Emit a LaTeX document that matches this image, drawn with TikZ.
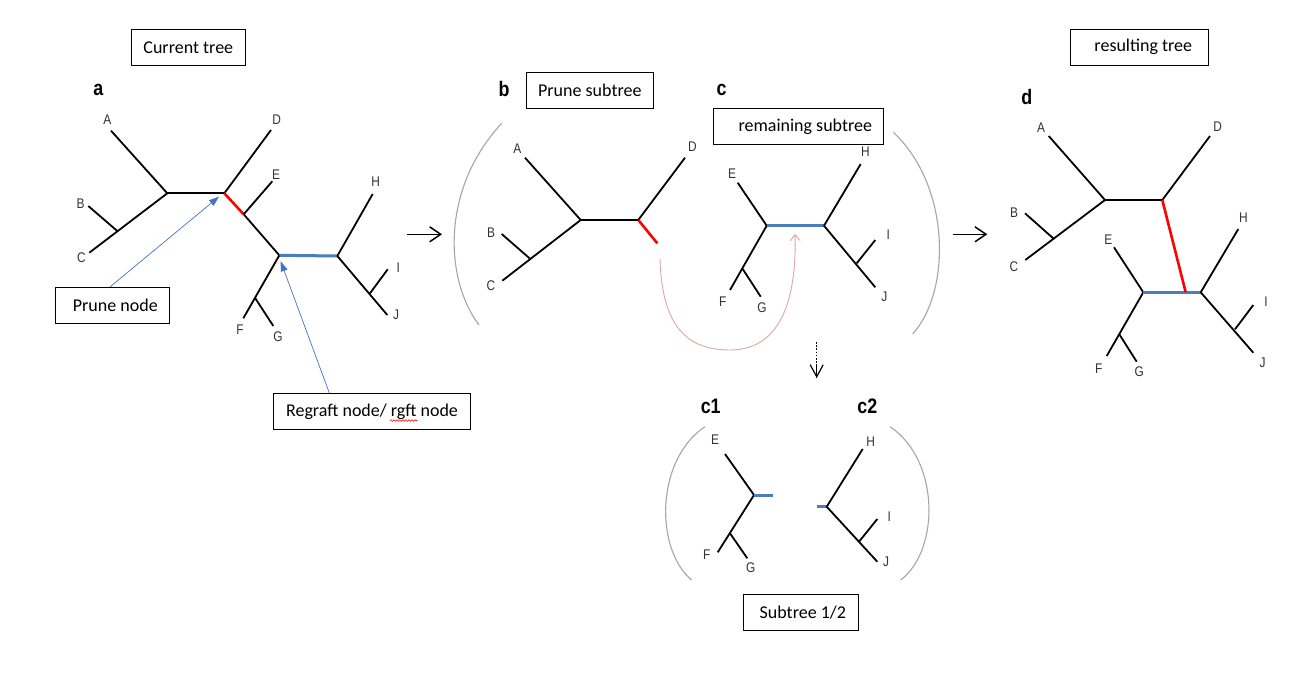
\documentclass[tikz,border=0pt]{standalone}
\usepackage{fontspec}
\setmainfont{Carlito}
\newfontfamily\leaffont[FakeStretch=0.85]{Liberation Sans}
\newfontfamily\panelfont[FakeStretch=0.85]{Liberation Sans}
\usetikzlibrary{arrows.meta,decorations.pathmorphing}
\definecolor{leafgray}{HTML}{333333}
\definecolor{treeblue}{HTML}{4A7EBB}
\definecolor{annblue}{HTML}{4472C4}
\definecolor{parengray}{HTML}{A6A6A6}
\definecolor{pinkarc}{HTML}{D9A8A8}
\tikzset{
  br/.style={line width=1.8pt, black},
  redbr/.style={line width=2.6pt, red},
  bluebr/.style={line width=3pt, treeblue},
  leaf/.style={font=\leaffont\fontsize{14}{16}\selectfont, text=leafgray, inner sep=0pt},
  panel/.style={font=\panelfont\bfseries\fontsize{21}{24}\selectfont, inner sep=0pt},
  box/.style={draw, line width=0.8pt, inner sep=0pt, minimum height=36pt, font=\fontsize{18}{21}\selectfont},
  paren/.style={draw=parengray, line width=1.1pt},
  stagearrow/.style={line width=1.5pt, -{Straight Barb[length=11pt,width=15pt,line width=1.5pt]}},
  annarrow/.style={annblue, line width=0.7pt, -{Triangle[length=10pt,width=7pt]}}
}
\begin{document}
\begin{tikzpicture}[x=1pt,y=-1pt]
\useasboundingbox (0,0) rectangle (1307,685);
\fill[white] (0,0) rectangle (1307,685);

% ---------- boxes ----------
\node[box, minimum width=114pt] (bcur) at (188.3,47.3) {Current tree};
\node[box, minimum width=114pt] (bprune) at (112.3,305.3) {\hspace*{6pt}Prune node};
\node[box, minimum width=197.4pt] (bregraft) at (372,411.3) {Regraft node/ rgft node};
\node[box, minimum width=127pt, minimum height=35.6pt] (bpsub) at (589.8,90.5) {Prune subtree};
\node[box, minimum width=170pt, minimum height=35.3pt] (brem) at (798.3,126.3) {\hspace*{14pt}remaining subtree};
\node[box, minimum width=138pt] (bres) at (1139.3,47) {\hspace*{8pt}resulting tree};
\node[box, minimum width=115pt, minimum height=35.7pt] (bsub) at (800.8,612.2) {\hspace*{4pt}Subtree 1/2};
\draw[red, line width=0.6pt, decorate, decoration={snake, segment length=3pt, amplitude=0.8pt}] (390,420.5) -- (417,420.5);

% ---------- panel letters ----------
\node[panel] (la) at (98.3,90) {a};
\node[panel] (lb) at (504,89.3) {b};
\node[panel] (lc) at (721.7,90) {c};
\node[panel] (ld) at (1026.7,96.7) {d};
\node[panel] (lc1) at (710.7,406.7) {c1};
\node[panel] (lc2) at (867.3,406.7) {c2};

% ---------- tree a ----------
\coordinate (an1) at (167.3,193.3);
\coordinate (an2) at (224.3,193.3);
\coordinate (aA) at (111,130.7);
\coordinate (aBC) at (117.3,231);
\coordinate (aB) at (88.3,206);
\coordinate (aC) at (89.3,252.7);
\coordinate (aD) at (271,130);
\coordinate (aEj) at (243.7,214.3);
\coordinate (aE) at (272.3,181.3);
\coordinate (an3) at (279.3,255.3);
\coordinate (an4) at (337.3,256);
\coordinate (aH) at (372.7,194);
\coordinate (aIJ) at (370,293.3);
\coordinate (aI) at (387.7,269.3);
\coordinate (aJ) at (387.3,315);
\coordinate (aF) at (243.3,318.3);
\coordinate (aFG) at (255.3,298.3);
\coordinate (aG) at (273.3,326);
\draw[br] (aA) -- (an1);
\draw[br] (an1) -- (an2);
\draw[br] (an2) -- (aD);
\draw[br] (an1) -- (aC);
\draw[br] (aBC) -- (aB);
\draw[redbr] (an2) -- (aEj);
\draw[br] (aEj) -- (aE);
\draw[br] (aEj) -- (an3);
\draw[bluebr] (an3) -- (an4);
\draw[br] (an4) -- (aH);
\draw[br] (an4) -- (aJ);
\draw[br] (aIJ) -- (aI);
\draw[br] (an3) -- (aF);
\draw[br] (aFG) -- (aG);
\node[leaf] (aLA) at (107.3,119.3) {A};
\node[leaf] (aLB) at (80.7,203.3) {B};
\node[leaf] (aLC) at (81.3,257.3) {C};
\node[leaf] (aLD) at (276.7,119.3) {D};
\node[leaf] (aLE) at (276,174.3) {E};
\node[leaf] (aLH) at (375.7,181.3) {H};
\node[leaf] (aLI) at (398.3,267.3) {I};
\node[leaf] (aLJ) at (396,315) {J};
\node[leaf] (aLF) at (240,329.3) {F};
\node[leaf] (aLG) at (278,336.7) {G};

% annotation arrows
\coordinate (prtip) at (219,196.7);
\coordinate (rgtip) at (280.7,261.3);
\draw[annarrow] ([xshift=-2.3pt]bprune.north) -- (prtip);
\draw[annarrow] ([xshift=-42.7pt]bregraft.north) -- (rgtip);

% stage arrows
\coordinate (s1a) at (407.3,234.3);
\coordinate (s1b) at (442,234.3);
\draw[stagearrow] (s1a) -- (s1b);
\coordinate (s2a) at (952.7,234.3);
\coordinate (s2b) at (987.3,234.3);
\draw[stagearrow] (s2a) -- (s2b);
\coordinate (s3a) at (816.7,342);
\coordinate (s3b) at (816.7,378);
\draw[line width=1.4pt, dash pattern=on 1.6pt off 1.6pt] (s3a) -- (s3b);
\draw[line width=1.2pt, -{Straight Barb[length=12pt,width=13pt,line width=1.2pt]}] ([yshift=13pt]s3b) -- (s3b);

% ---------- parentheses ----------
\draw[paren] (501.7,123.3) .. controls (440,190) and (445,280) .. (479,325);
\draw[paren] (893.3,132.3) .. controls (950,185) and (952,290) .. (912.7,334);
\draw[paren] (705,426.7) .. controls (655,460) and (655,550) .. (691.7,580);
\draw[paren] (890,426.7) .. controls (940,460) and (940,550) .. (900.7,580);

% ---------- tree b ----------
\coordinate (bn1) at (580.7,220);
\coordinate (bn2) at (638.3,220);
\coordinate (bA) at (525,157.7);
\coordinate (bBC) at (530,258.7);
\coordinate (bB) at (501.7,234);
\coordinate (bC) at (502.3,280.7);
\coordinate (bD) at (685,157.7);
\coordinate (bR) at (657.3,243.3);
\draw[br] (bA) -- (bn1);
\draw[br] (bn1) -- (bn2);
\draw[br] (bn2) -- (bD);
\draw[br] (bn1) -- (bC);
\draw[br] (bBC) -- (bB);
\draw[redbr] (bn2) -- (bR);
\node[leaf] (bLA) at (517.3,148.7) {A};
\node[leaf] (bLB) at (491,232.7) {B};
\node[leaf] (bLC) at (491,286) {C};
\node[leaf] (bLD) at (692.3,147) {D};

% ---------- tree c ----------
\coordinate (cn3) at (766.7,225.7);
\coordinate (cn4) at (824,225.7);
\coordinate (cE) at (737.7,182.7);
\coordinate (cF) at (730,290);
\coordinate (cFG) at (742.7,269);
\coordinate (cG) at (760.7,296.7);
\coordinate (cH) at (860.7,164);
\coordinate (cIJ) at (856.7,263.3);
\coordinate (cI) at (875.3,240);
\coordinate (cJ) at (875.3,287.3);
\draw[br] (cE) -- (cn3);
\draw[br] (cn3) -- (cF);
\draw[br] (cFG) -- (cG);
\draw[bluebr] (cn3) -- (cn4);
\draw[br] (cn4) -- (cH);
\draw[br] (cn4) -- (cJ);
\draw[br] (cIJ) -- (cI);
\node[leaf] (cLE) at (732,173.3) {E};
\node[leaf] (cLF) at (722.7,301.7) {F};
\node[leaf] (cLG) at (762,307.3) {G};
\node[leaf] (cLH) at (865.3,151.7) {H};
\node[leaf] (cLI) at (888.3,234.3) {I};
\node[leaf] (cLJ) at (884.3,296.7) {J};

% regraft arc
\coordinate (arcS) at (660,259);
\coordinate (arcM) at (730,350);
\coordinate (arcE) at (795,234);
\draw[pinkarc, line width=0.9pt, -{Straight Barb[length=6pt,width=10pt,line width=0.9pt]}]
  (arcS) .. controls (662,330) and (690,350) .. (arcM)
  .. controls (775,350) and (797,310) .. (arcE);

% ---------- tree c1 ----------
\coordinate (c1n) at (754,495);
\coordinate (c1s) at (772.7,495);
\coordinate (c1E) at (725,454);
\coordinate (c1F) at (717.7,552.3);
\coordinate (c1FG) at (730,533.3);
\coordinate (c1G) at (747.3,558.3);
\draw[br] (c1E) -- (c1n);
\draw[br] (c1n) -- (c1F);
\draw[br] (c1FG) -- (c1G);
\draw[bluebr] (c1n) -- (c1s);
\node[leaf] (c1LE) at (715,440) {E};
\node[leaf] (c1LF) at (706.7,555) {F};
\node[leaf] (c1LG) at (750.7,567.3) {G};

% ---------- tree c2 ----------
\coordinate (c2s) at (817.3,506.7);
\coordinate (c2n) at (826.7,506.7);
\coordinate (c2H) at (862.7,449);
\coordinate (c2IJ) at (859,541.7);
\coordinate (c2I) at (877.3,519);
\coordinate (c2J) at (877.3,561.7);
\draw[bluebr] (c2s) -- (c2n);
\draw[br] (c2n) -- (c2H);
\draw[br] (c2n) -- (c2J);
\draw[br] (c2IJ) -- (c2I);
\node[leaf] (c2LH) at (870.7,441.7) {H};
\node[leaf] (c2LI) at (889.3,516.7) {I};
\node[leaf] (c2LJ) at (886,561.7) {J};

% ---------- tree d ----------
\coordinate (dn1) at (1105,200);
\coordinate (dn2) at (1162.3,200);
\coordinate (dA) at (1048.7,136);
\coordinate (dD) at (1210,136);
\coordinate (dB) at (1025,213.3);
\coordinate (dBC) at (1054,239);
\coordinate (dC) at (1025.3,260);
\coordinate (dR) at (1185.7,292.3);
\coordinate (dn3) at (1143.3,292.3);
\coordinate (dn4) at (1200.7,292.3);
\coordinate (dE) at (1114,247.3);
\coordinate (dF) at (1106.7,356);
\coordinate (dFG) at (1119.3,334.3);
\coordinate (dG) at (1136.7,361.7);
\coordinate (dH) at (1238.3,229);
\coordinate (dIJ) at (1235,329.3);
\coordinate (dI) at (1253.3,305);
\coordinate (dJ) at (1253.3,352.7);
\draw[br] (dA) -- (dn1);
\draw[br] (dn1) -- (dn2);
\draw[br] (dn2) -- (dD);
\draw[br] (dn1) -- (dC);
\draw[br] (dBC) -- (dB);
\draw[br] (dE) -- (dn3);
\draw[br] (dn3) -- (dF);
\draw[br] (dFG) -- (dG);
\draw[bluebr] (dn3) -- (dn4);
\draw[redbr] (dn2) -- (dR);
\draw[br] (dn4) -- (dH);
\draw[br] (dn4) -- (dJ);
\draw[br] (dIJ) -- (dI);
\node[leaf] (dLA) at (1041,127.7) {A};
\node[leaf] (dLB) at (1014,212.7) {B};
\node[leaf] (dLC) at (1014,266.7) {C};
\node[leaf] (dLD) at (1217.7,126.7) {D};
\node[leaf] (dLE) at (1108.3,239.3) {E};
\node[leaf] (dLF) at (1098.7,368.3) {F};
\node[leaf] (dLG) at (1139.3,371.7) {G};
\node[leaf] (dLH) at (1243.3,217.3) {H};
\node[leaf] (dLI) at (1266,301.7) {I};
\node[leaf] (dLJ) at (1262.7,362.7) {J};
\end{tikzpicture}
\end{document}
